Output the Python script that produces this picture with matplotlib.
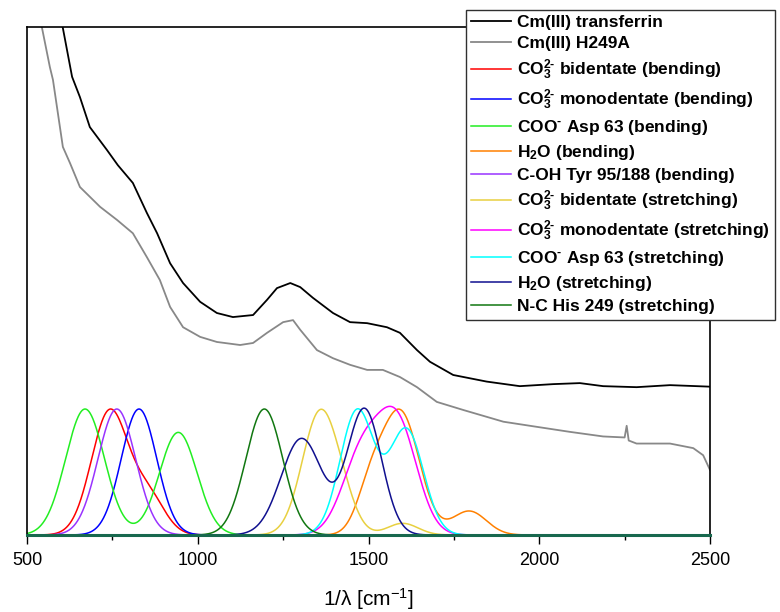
import numpy as np
import matplotlib
matplotlib.use("Agg")
import matplotlib.pyplot as plt
from matplotlib.ticker import MultipleLocator

plt.rcParams['font.family'] = ['Liberation Sans', 'DejaVu Sans']
plt.rcParams['mathtext.default'] = 'regular'

# measured spectra (wavenumber, intensity in arbitrary units)
black_x = [585, 605, 632, 655, 684, 734, 766, 810, 851, 881, 919, 957, 1007, 1056,
           1103, 1162, 1203, 1232, 1271, 1300, 1337, 1396, 1446, 1496, 1554, 1592,
           1642, 1680, 1748, 1846, 1943, 2041, 2119, 2187, 2285, 2383, 2500]
black_y = [107, 99.8, 90.2, 86.2, 80.3, 75.8, 72.8, 69.3, 63.4, 59.4, 53.5, 49.6, 45.9, 43.7,
           42.9, 43.3, 46.3, 48.6, 49.6, 48.8, 46.7, 43.7, 41.9, 41.7, 40.9, 39.8,
           36.4, 34.1, 31.5, 30.2, 29.3, 29.7, 29.9, 29.3, 29.1, 29.5, 29.2]

gray_x = [530, 544, 567, 576, 605, 626, 655, 714, 764, 810, 851, 889, 919, 957, 1007,
          1056, 1124, 1162, 1203, 1250, 1279, 1300, 1349, 1396, 1446, 1496, 1542, 1592,
          1642, 1700, 1778, 1895, 1992, 2090, 2187, 2250, 2256, 2262, 2285, 2383, 2451,
          2480, 2500]
gray_y = [104, 99.8, 92.1, 89.6, 76.4, 73.2, 68.5, 64.6, 62.0, 59.4, 54.7, 50.2, 44.9, 40.9, 39.0,
          38.0, 37.4, 37.8, 39.8, 41.9, 42.3, 40.4, 36.4, 34.8, 33.5, 32.5, 32.5, 31.1,
          29.1, 26.2, 24.6, 22.3, 21.3, 20.3, 19.4, 19.2, 21.5, 18.6, 18.0, 18.0, 17.1,
          15.7, 12.8]

# fitted vibrational components: peak centres, heights, widths (sigma)
comp_labels = ['CO$_3^{2\u2010}$ bidentate (bending)',
               'CO$_3^{2\u2010}$ monodentate (bending)',
               'COO$^{\u2010}$ Asp 63 (bending)',
               'H$_2$O (bending)',
               'C-OH Tyr 95/188 (bending)',
               'CO$_3^{2\u2010}$ bidentate (stretching)',
               'CO$_3^{2\u2010}$ monodentate (stretching)',
               'COO$^{\u2010}$ Asp 63 (stretching)',
               'H$_2$O (stretching)',
               'N-C His 249 (stretching)']
comp_colors = ['#ff0000', '#0000ff', '#22ee22', '#ff8000', '#9933ff',
               '#e8d040', '#ff00ff', '#00ffff', '#10108f', '#117711']
comp_centers = [[742, 855], [828], [670, 943], [1505, 1594, 1795], [763],
                [1358, 1430, 1600], [1480, 1585], [1467, 1611], [1304, 1488], [1195]]
comp_heights = [[24.3, 7.5], [24.8], [24.8, 20.2], [8, 24, 4.7], [24.8],
                [24, 3.5, 2.3], [15.5, 21.5], [24.5, 20.7], [19, 24.8], [24.8]]
comp_widths = [[53.6, 48], [52], [57, 55], [40, 55, 50], [55],
               [52, 40, 45], [57, 57], [50, 50], [60, 50], [54]]

fig = plt.figure(figsize=(7.8, 6.12), dpi=100)
ax = fig.add_axes([27 / 780, 77 / 612, 683 / 780, 508 / 612])

handles = []
h, = ax.plot(black_x, black_y, color='black', lw=1.3, label='Cm(III) transferrin')
handles.append(h)
h, = ax.plot(gray_x, gray_y, color='#888888', lw=1.3, label='Cm(III) H249A')
handles.append(h)

wn = np.linspace(500, 2500, 2001)
for lab, col, cs, hs, ws in zip(comp_labels, comp_colors, comp_centers, comp_heights, comp_widths):
    y = np.zeros_like(wn)
    for c, a, s in zip(cs, hs, ws):
        y += a * np.exp(-(wn - c) ** 2 / (2 * s ** 2))
    h, = ax.plot(wn, y, color=col, lw=1.1, label=lab)
    handles.append(h)

ax.set_xlim(500, 2500)
ax.set_ylim(0, 100)
ax.set_yticks([])
ax.xaxis.set_major_locator(MultipleLocator(500))
ax.xaxis.set_minor_locator(MultipleLocator(250))
ax.tick_params(axis='x', which='major', direction='out', length=6.5, width=1,
               labelsize=13, pad=6)
ax.tick_params(axis='x', which='minor', direction='out', length=3.5, width=1)
for sp in ax.spines.values():
    sp.set_linewidth(1.2)
ax.spines['bottom'].set_color('#18684e')
ax.spines['bottom'].set_linewidth(2.2)
ax.spines['bottom'].set_zorder(3)
ax.tick_params(axis='x', which='both', color='black')
ax.set_xlabel('1/λ [cm$^{-1}$]', fontsize=15, labelpad=12)

leg = fig.legend(handles=handles, loc='upper left', bbox_to_anchor=(466 / 780, 1 - 10 / 612),
                 borderaxespad=0, prop={'weight': 'bold', 'size': 12.5},
                 frameon=True, fancybox=False, edgecolor='#303030', framealpha=1,
                 handlelength=2.3, handletextpad=0.35, labelspacing=0.34, borderpad=0.3)
leg.get_frame().set_linewidth(1)

fig.savefig('out.png', dpi=100)
